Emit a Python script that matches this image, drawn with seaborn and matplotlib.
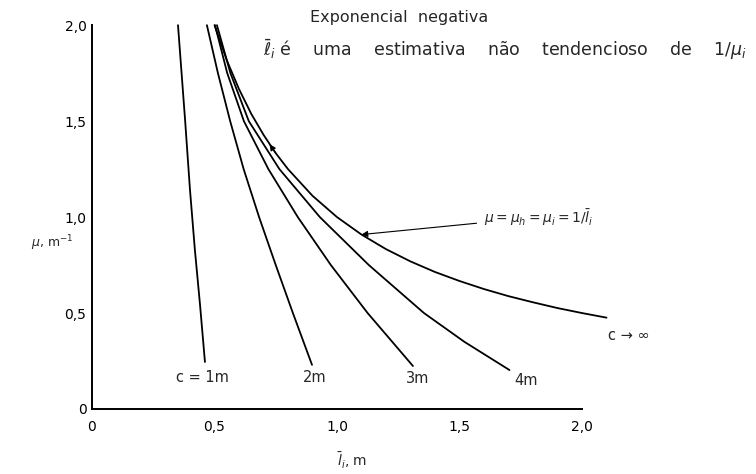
import matplotlib
matplotlib.use("Agg")
import matplotlib.pyplot as plt
import seaborn as sns
import pandas as pd

# Curves of mu versus mean intercept length l_i, one per sample size c
c1_l = [0.351, 0.380, 0.400, 0.420, 0.441, 0.461]
c1_mu = [2.0, 1.505, 1.141, 0.828, 0.542, 0.245]

c2_l = [0.469, 0.514, 0.564, 0.619, 0.682, 0.750, 0.820, 0.898]
c2_mu = [2.0, 1.75, 1.5, 1.25, 1.0, 0.75, 0.5, 0.23]

c3_l = [0.502, 0.552, 0.620, 0.720, 0.840, 0.975, 1.125, 1.310]
c3_mu = [2.0, 1.75, 1.5, 1.25, 1.0, 0.75, 0.5, 0.224]

c4_l = [0.510, 0.565, 0.640, 0.765, 0.930, 1.130, 1.355, 1.520, 1.704]
c4_mu = [2.0, 1.75, 1.5, 1.25, 1.0, 0.75, 0.5, 0.35, 0.203]

# Limit curve mu = 1 / l_i
cinf_l = [0.50, 0.55, 0.60, 0.65, 0.70, 0.75, 0.80, 0.90, 1.00, 1.10, 1.20, 1.30,
          1.40, 1.50, 1.60, 1.70, 1.80, 1.90, 2.00, 2.10]
cinf_mu = [2.0, 1.818, 1.667, 1.538, 1.429, 1.333, 1.25, 1.111, 1.0, 0.909, 0.833,
           0.769, 0.714, 0.667, 0.625, 0.588, 0.556, 0.526, 0.5, 0.476]

curve_names = ["c = 1m", "2m", "3m", "4m", "c → ∞"]

x_ticks = [0, 0.5, 1.0, 1.5, 2.0]
x_tick_labels = ["0", "0,5", "1,0", "1,5", "2,0"]
y_ticks = [0, 0.5, 1.0, 1.5, 2.0]
y_tick_labels = ["0", "0,5", "1,0", "1,5", "2,0"]

series = [(c1_l, c1_mu), (c2_l, c2_mu), (c3_l, c3_mu), (c4_l, c4_mu), (cinf_l, cinf_mu)]
rows = []
for name, (ls, mus) in zip(curve_names, series):
    for l, m in zip(ls, mus):
        rows.append({"l": l, "mu": m, "curva": name})
df = pd.DataFrame(rows)

sns.set_style("white")
plt.rcParams["font.family"] = ["DejaVu Sans"]
plt.rcParams["mathtext.fontset"] = "dejavusans"

fig = plt.figure(figsize=(7.56, 4.74), dpi=100)
ax = fig.add_axes([92 / 756, 65 / 474, 637 / 756, 403 / 474])

sns.lineplot(data=df, x="l", y="mu", hue="curva", units="curva", estimator=None,
             sort=False, palette=["black"] * 5, linewidth=1.3, legend=False, ax=ax)

ax.set_xlim(0, 2.6)
ax.set_ylim(0, 2.1)
for s in ["top", "right"]:
    ax.spines[s].set_visible(False)
for s in ["left", "bottom"]:
    ax.spines[s].set_color("black")
    ax.spines[s].set_linewidth(1.4)
ax.spines["bottom"].set_bounds(0, 2.0)
ax.spines["left"].set_bounds(0, 2.0)

ax.set_xticks(x_ticks)
ax.set_xticklabels(x_tick_labels)
ax.set_yticks(y_ticks)
ax.set_yticklabels(y_tick_labels)
ax.tick_params(axis="both", direction="in", length=4, width=1, colors="black",
               labelsize=10)
ax.tick_params(axis="x", pad=8)
ax.tick_params(axis="y", pad=4)
ax.set_xlabel("")
ax.set_ylabel("")

# Axis titles
ax.text(1.06, -0.27, r"$\bar{l}_i$, m", ha="center", va="center", fontsize=10,
        clip_on=False)
fig.text(52 / 756, 1 - 243 / 474, r"$\mu$, m$^{-1}$", ha="center", va="center",
         fontsize=9)

# Curve labels
label_pos = [(0.449, 0.165), (0.91, 0.165), (1.33, 0.16), (1.77, 0.15), (2.19, 0.385)]
for name, (lx, ly) in zip(curve_names, label_pos):
    ax.text(lx, ly, name, ha="center", va="center", fontsize=10.5)

# Headings
ax.text(0.89, 2.04, "Exponencial  negativa", ha="left", va="center", fontsize=11.5,
        clip_on=False)
ax.text(0.70, 1.87,
        r"$\bar{\ell}_i$ é    uma    estimativa    não    tendencioso    de    $1/\mu_i$",
        ha="left", va="center", fontsize=12.5, clip_on=False)

# Arrow pointing at the limit curve
ax.annotate(r"$\mu = \mu_h = \mu_i = 1/\bar{l}_i$", xy=(1.10, 0.909),
            xytext=(1.60, 1.0), ha="left", va="center", fontsize=10,
            arrowprops=dict(arrowstyle="-|>", color="black", lw=0.8,
                            mutation_scale=9, shrinkA=3, shrinkB=0))

# Small arrowhead drawn along the limit curve near its top
ax.annotate("", xy=(0.725, 1.379), xytext=(0.75, 1.333),
            arrowprops=dict(arrowstyle="-|>", color="black", lw=0.8,
                            mutation_scale=9, shrinkA=0, shrinkB=0))

fig.savefig("out.png", dpi=100, facecolor="white")
